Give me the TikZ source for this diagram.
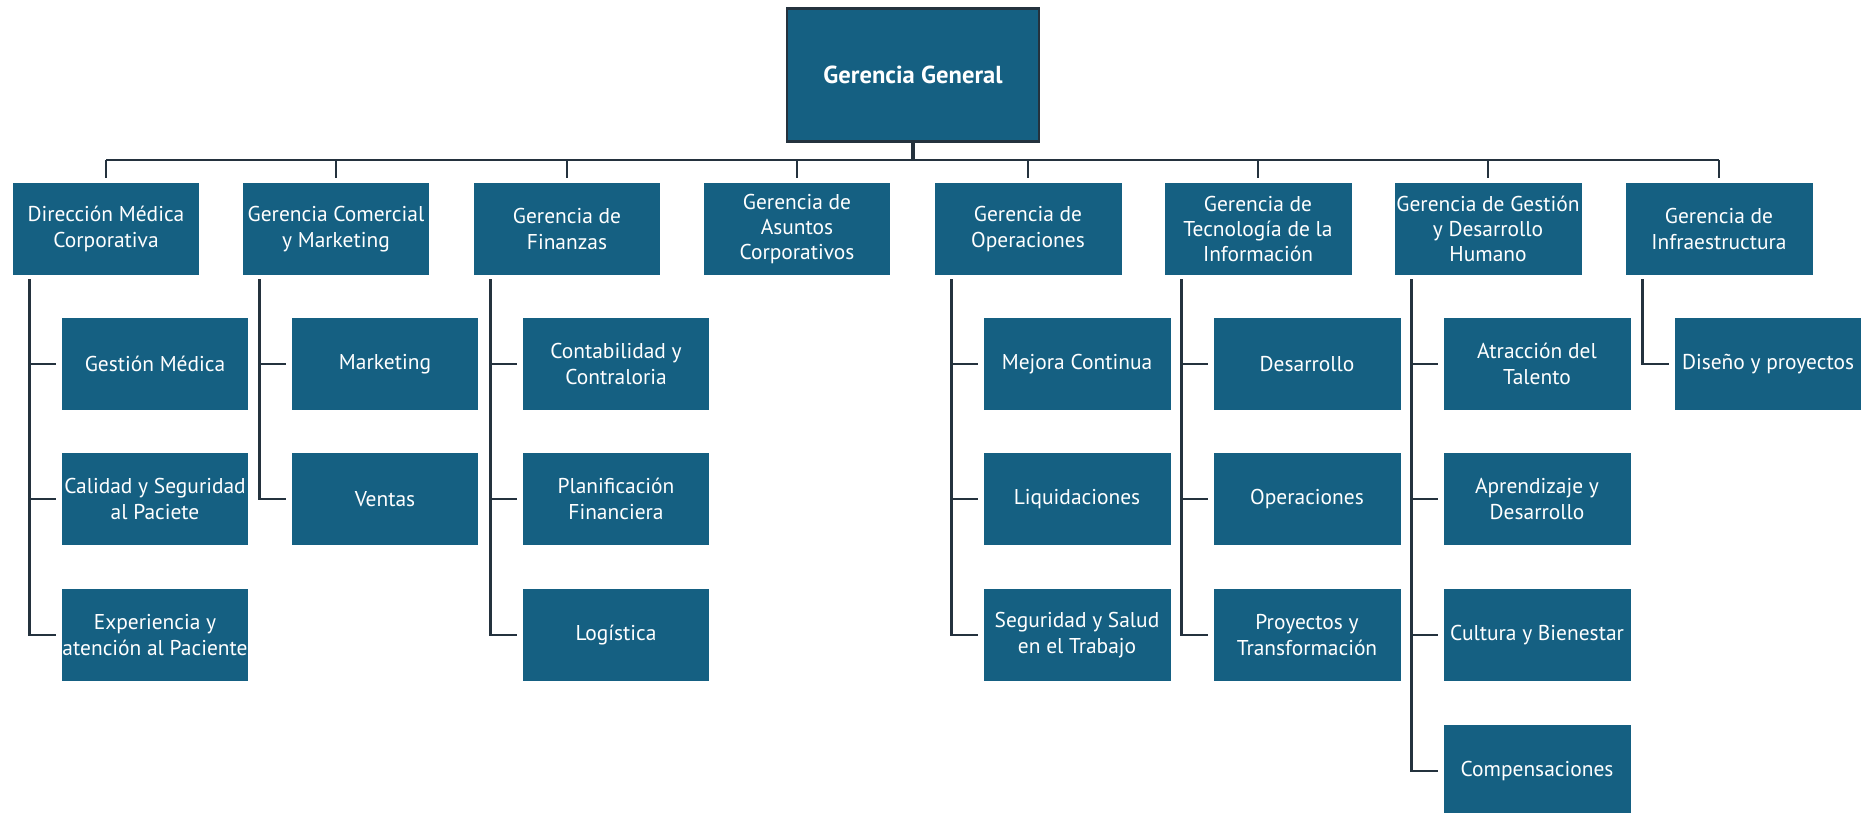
\documentclass[tikz,border=0pt]{standalone}
\usepackage{fontspec}
\setmainfont{PT Sans}
\definecolor{boxblue}{HTML}{156082}
\definecolor{linedark}{HTML}{24323E}

\begin{document}
\begin{tikzpicture}[
        x=0.02cm, y=-0.02cm,
        font=\fontsize{12.2}{14.4}\selectfont,
        unit/.style={fill=boxblue, text=white, minimum width=3.74cm, minimum height=1.83cm, align=center, inner sep=0pt},
        head/.style={unit, draw=linedark, line width=1.4pt, minimum width=5.05cm, minimum height=2.66cm, font=\fontsize{14}{16}\selectfont\bfseries},
        link/.style={draw=linedark, line width=1.6pt}
    ]
        \useasboundingbox (0,0) rectangle (1861,812);

        \node[head] (gerenciaGeneral) at (913,75) {Gerencia General};

        \node[unit] (direccionMedica) at (106,229) {Dirección Médica\\Corporativa};
        \node[unit] (comercial) at (336,229) {Gerencia Comercial\\y Marketing};
        \node[unit] (finanzas) at (567,229) {Gerencia de\\Finanzas};
        \node[unit] (asuntos) at (797,229) {Gerencia de\\Asuntos\\Corporativos};
        \node[unit] (operaciones) at (1028,229) {Gerencia de\\Operaciones};
        \node[unit] (tecnologia) at (1258,229) {Gerencia de\\Tecnología de la\\Información};
        \node[unit] (gestionHumana) at (1488,229) {Gerencia de Gestión\\y Desarrollo\\Humano};
        \node[unit] (infraestructura) at (1719,229) {Gerencia de\\Infraestructura};

        \node[unit] (gestionMedica) at (155,364) {Gestión Médica};
        \node[unit] (calidad) at (155,499) {Calidad y Seguridad\\al Paciete};
        \node[unit] (experiencia) at (155,635) {Experiencia y\\atención al Paciente};

        \node[unit] (marketing) at (385,364) {Marketing};
        \node[unit] (ventas) at (385,499) {Ventas};

        \node[unit] (contabilidad) at (616,364) {Contabilidad y\\Contraloria};
        \node[unit] (planificacion) at (616,499) {Planificación\\Financiera};
        \node[unit] (logistica) at (616,635) {Logística};

        \node[unit] (mejora) at (1077,364) {Mejora Continua};
        \node[unit] (liquidaciones) at (1077,499) {Liquidaciones};
        \node[unit] (seguridad) at (1077,635) {Seguridad y Salud\\en el Trabajo};

        \node[unit] (desarrollo) at (1307,364) {Desarrollo};
        \node[unit] (operacionesTI) at (1307,499) {Operaciones};
        \node[unit] (proyectos) at (1307,635) {Proyectos y\\Transformación};

        \node[unit] (atraccion) at (1537,364) {Atracción del\\Talento};
        \node[unit] (aprendizaje) at (1537,499) {Aprendizaje y\\Desarrollo};
        \node[unit] (cultura) at (1537,635) {Cultura y Bienestar};
        \node[unit] (compensaciones) at (1537,771) {Compensaciones};

        \node[unit] (diseno) at (1768,364) {Diseño y proyectos};

        % bus under the top box
        \coordinate (bus) at (913,160);
        \draw[link, line width=2.4pt] (gerenciaGeneral.south) -- (bus);
        \draw[link] (direccionMedica.north |- bus) -- (infraestructura.north |- bus);
        \foreach \area in {direccionMedica,comercial,finanzas,asuntos,operaciones,tecnologia,gestionHumana,infraestructura} {
            \draw[link, shorten >=3pt] (\area.north |- bus) -- (\area.north);
        }

        % spines down to each team
        \foreach \boss/\team in {direccionMedica/gestionMedica, direccionMedica/calidad, direccionMedica/experiencia,
                comercial/marketing, comercial/ventas,
                finanzas/contabilidad, finanzas/planificacion, finanzas/logistica,
                operaciones/mejora, operaciones/liquidaciones, operaciones/seguridad,
                tecnologia/desarrollo, tecnologia/operacionesTI, tecnologia/proyectos,
                gestionHumana/atraccion, gestionHumana/aprendizaje, gestionHumana/cultura, gestionHumana/compensaciones,
                infraestructura/diseno} {
            \draw[link, shorten >=3pt] ([xshift=0.34cm,yshift=-0.08cm]\boss.south west) |- (\team.west);
        }
    \end{tikzpicture}
\end{document}
